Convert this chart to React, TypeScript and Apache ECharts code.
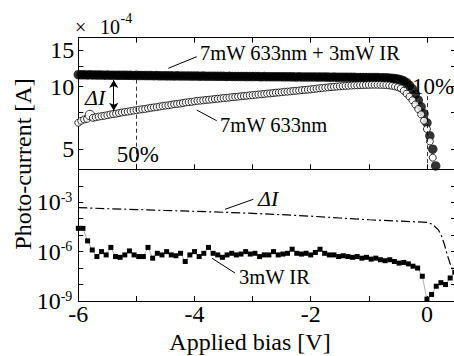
import React, { useEffect, useRef } from 'react';
import * as echarts from 'echarts';

const FONT = '"Liberation Serif", "Times New Roman", Times, serif';

// Bias sweep grids [V]
const SWEEP_START = -6;
const CIRCLE_STEP = 0.05;
const SQUARE_STEP = 0.08;

// 7mW 633nm + 3mW IR  (x 1e-4 A), bias -6 .. 0.15 step 0.05
const combinedValues = [
  11.42, 11.40, 11.41, 11.39, 11.40, 11.38, 11.39, 11.37, 11.38, 11.36, 11.37, 11.36, 11.35, 11.36, 11.34, 11.35, 11.33, 11.34, 11.33, 11.32,
  11.33, 11.31, 11.32, 11.30, 11.31, 11.30, 11.29, 11.30, 11.28, 11.29, 11.28, 11.27, 11.28, 11.26, 11.27, 11.26, 11.25, 11.26, 11.25, 11.24,
  11.25, 11.24, 11.23, 11.24, 11.23, 11.22, 11.23, 11.22, 11.21, 11.22, 11.21, 11.20, 11.21, 11.20, 11.19, 11.20, 11.19, 11.19, 11.18, 11.19,
  11.18, 11.19, 11.18, 11.17, 11.18, 11.17, 11.17, 11.16, 11.17, 11.16, 11.16, 11.15, 11.16, 11.15, 11.15, 11.14, 11.15, 11.14, 11.14, 11.13,
  11.14, 11.13, 11.13, 11.12, 11.13, 11.12, 11.12, 11.11, 11.12, 11.11, 11.10, 11.11, 11.10, 11.10, 11.09, 11.09, 11.08, 11.08, 11.07, 11.06,
  11.06, 11.06, 11.05, 11.05, 11.04, 11.03, 11.02, 11.00, 10.97, 10.93, 10.87, 10.78, 10.66, 10.45, 10.15, 9.75, 9.20, 8.60, 8.00, 7.40,
  6.70, 5.80, 5.00, 4.15,
];

// 7mW 633nm (x 1e-4 A), bias -6 .. 0.10 step 0.05
const redOnlyValues = [
  6.70, 6.85, 6.95, 7.00, 7.30, 7.08, 7.12, 7.17, 7.21, 7.24, 7.29, 7.34, 7.38, 7.41, 7.46, 7.51, 7.55, 7.58, 7.63, 7.67,
  7.70, 7.75, 7.78, 7.81, 7.86, 7.91, 7.94, 7.97, 8.02, 8.07, 8.10, 8.13, 8.18, 8.23, 8.26, 8.29, 8.34, 8.39, 8.42, 8.45,
  8.50, 8.54, 8.56, 8.59, 8.63, 8.65, 8.68, 8.72, 8.74, 8.77, 8.81, 8.83, 8.86, 8.90, 8.92, 8.95, 8.99, 9.01, 9.04, 9.08,
  9.10, 9.13, 9.17, 9.19, 9.22, 9.26, 9.28, 9.31, 9.35, 9.37, 9.40, 9.44, 9.46, 9.49, 9.53, 9.55, 9.58, 9.62, 9.64, 9.67,
  9.70, 9.74, 9.78, 9.82, 9.86, 9.89, 9.92, 9.95, 9.98, 10.01, 10.04, 10.06, 10.08, 10.10, 10.12, 10.14, 10.15, 10.17, 10.18, 10.19,
  10.20, 10.21, 10.21, 10.21, 10.20, 10.19, 10.17, 10.14, 10.09, 10.02, 9.93, 9.80, 9.55, 9.25, 8.95, 8.60, 8.20, 7.80, 7.35, 6.85,
  6.25, 5.45, 4.55,
];

// Delta I (A)
const deltaBias = [-6, -5.5, -5, -4.5, -4, -3.5, -3, -2.5, -2, -1.5, -1, -0.5, -0.25, 0, 0.1, 0.2, 0.25, 0.3, 0.35, 0.4, 0.45, 0.5];
const deltaValues = [
  4.7e-4, 4.05e-4, 3.6e-4, 3.15e-4, 2.8e-4, 2.45e-4, 2.1e-4, 1.75e-4, 1.42e-4, 1.1e-4, 8.6e-5,
  7.2e-5, 6.6e-5, 5.9e-5, 4.5e-5, 2.0e-5, 8.9e-6, 2.8e-6, 6.3e-7, 1.8e-7, 7e-8, 3.2e-8,
];

// 3mW IR (A), bias -6 .. 0.48 step 0.08
const irValues = [
  2.6e-5, 2.6e-5, 4.5e-6, 1.26e-6, 5.0e-7, 1.0e-6, 6.3e-7, 1.8e-6, 5.0e-7, 4.5e-7,
  6.3e-7, 1.1e-6, 6.3e-7, 5.0e-7, 5.0e-7, 1.8e-6, 4.0e-7, 7.9e-7, 6.3e-7, 1.0e-6,
  6.3e-7, 5.6e-7, 7.9e-7, 2.5e-7, 6.3e-7, 1.0e-6, 5.0e-7, 7.9e-7, 1.8e-6, 7.9e-7,
  6.3e-7, 4.5e-7, 6.3e-7, 7.9e-7, 6.3e-7, 7.1e-7, 1.0e-6, 7.1e-7, 7.9e-7, 5.0e-7,
  6.3e-7, 6.3e-7, 1.0e-6, 6.3e-7, 7.1e-7, 7.9e-7, 1.4e-6, 7.9e-7, 7.1e-7, 7.9e-7,
  6.3e-7, 8.9e-7, 1.4e-6, 7.9e-7, 6.3e-7, 6.3e-7, 5.0e-7, 5.6e-7, 5.0e-7, 4.5e-7,
  5.0e-7, 4.0e-7, 4.5e-7, 3.5e-7, 4.0e-7, 3.2e-7, 2.8e-7, 3.2e-7, 2.5e-7, 2.0e-7,
  2.2e-7, 1.8e-7, 1.3e-7, 1.0e-7, 3.2e-8, 1.3e-9, 2.5e-9, 7.9e-9, 1.3e-8, 1.0e-8,
  2.5e-8, 5.6e-8,
];

const topTickValues = [5, 7.5, 10, 12.5, 15];
const topLabelValues = [5, 10, 15];
const TOP_MIN = 4;
const TOP_MAX = 17.2;
const BOTTOM_MIN = 1e-9;
const BOTTOM_MAX = 1e-1;

const sweep = (start: number, step: number, n: number) =>
  Array.from({ length: n }, (_, i) => Math.round((start + step * i) * 1000) / 1000);

function buildOption() {
  const circleBias = sweep(SWEEP_START, CIRCLE_STEP, combinedValues.length);
  const squareBias = sweep(SWEEP_START, SQUARE_STEP, irValues.length);

  const axisLine = { show: true, onZero: false, lineStyle: { color: '#000', width: 1 } };
  const tick = { show: true, inside: true, length: 5, lineStyle: { color: '#000', width: 1 } };
  const xCommon = {
    type: 'value', min: -6, max: 0.5, interval: 1,
    axisLine, axisTick: tick, splitLine: { show: false }, axisLabel: { show: false },
  };
  const topLogMin = Math.log10(TOP_MIN);
  const topLogMax = Math.log10(TOP_MAX);
  const txt = (x: number, y: number, text: string, size: number, italic = false) => ({
    type: 'text', x, y,
    style: { text, fontFamily: FONT, fontSize: size, fontStyle: italic ? 'italic' : 'normal', fill: '#000', verticalAlign: 'middle' },
  });
  const seg = (x1: number, y1: number, x2: number, y2: number) => ({
    type: 'line', shape: { x1, y1, x2, y2 }, style: { stroke: '#000', lineWidth: 1 },
  });

  return {
    animation: false,
    backgroundColor: '#fff',
    grid: [
      { left: 78.3, top: 37.7, width: 377.7, height: 131.6, outerBoundsMode: 'none' },
      { left: 78.3, top: 169.3, width: 377.7, height: 131.7, outerBoundsMode: 'none' },
    ],
    xAxis: [
      { ...xCommon, gridIndex: 0, position: 'bottom' },
      { ...xCommon, gridIndex: 0, position: 'top' },
      {
        ...xCommon, gridIndex: 1, position: 'bottom',
        axisLabel: {
          show: true, color: '#000', fontFamily: FONT, fontSize: 24, margin: 1,
          formatter: (v: number) => (Number.isInteger(v) && Math.abs(v) % 2 === 0 ? String(v) : ''),
        },
      },
    ],
    yAxis: [
      { type: 'log', logBase: 10, gridIndex: 0, min: TOP_MIN, max: TOP_MAX, show: false },
      {
        type: 'value', gridIndex: 0, min: topLogMin, max: topLogMax, position: 'left',
        axisLine, splitLine: { show: false },
        axisTick: { ...tick, customValues: topTickValues.map((v) => Math.log10(v)) },
        axisLabel: {
          color: '#000', fontFamily: FONT, fontSize: 24, margin: 4,
          customValues: topLabelValues.map((v) => Math.log10(v)),
          formatter: (v: number) => String(Math.round(Math.pow(10, v))),
        },
      },
      {
        type: 'value', gridIndex: 0, min: topLogMin, max: topLogMax, position: 'right',
        axisLine, splitLine: { show: false },
        axisTick: { ...tick, customValues: topTickValues.map((v) => Math.log10(v)) },
        axisLabel: { show: false },
      },
      {
        type: 'log', logBase: 10, gridIndex: 1, min: BOTTOM_MIN, max: BOTTOM_MAX, interval: 1, position: 'left',
        axisLine, axisTick: tick, splitLine: { show: false }, minorTick: { show: false },
        axisLabel: {
          margin: 6,
          formatter: (v: number) => {
            const e = Math.round(Math.log10(v));
            return e % 3 === 0 ? `{b|10}{s|${e}}` : '';
          },
          rich: {
            b: { fontSize: 24, fontFamily: FONT, color: '#000', lineHeight: 24, verticalAlign: 'bottom', padding: [8, 0, 0, 0] },
            s: { fontSize: 14, fontFamily: FONT, color: '#000', lineHeight: 14, verticalAlign: 'top' },
          },
        },
      },
      {
        type: 'log', logBase: 10, gridIndex: 1, min: BOTTOM_MIN, max: BOTTOM_MAX, interval: 1, position: 'right',
        axisLine, axisTick: tick, splitLine: { show: false }, axisLabel: { show: false },
      },
    ],
    series: [
      {
        name: '7mW 633nm + 3mW IR', type: 'scatter', xAxisIndex: 0, yAxisIndex: 0,
        data: combinedValues.map((v, i) => [circleBias[i], v]),
        symbol: 'circle', symbolSize: 9.5, itemStyle: { color: '#000' },
        markLine: {
          silent: true, symbol: 'none', label: { show: false },
          lineStyle: { color: '#000', type: [4, 3], width: 0.8 },
          data: [
            [{ coord: [-5, 10.8] }, { coord: [-5, TOP_MIN] }],
            [{ coord: [0, 9] }, { coord: [0, TOP_MIN] }],
          ],
        },
      },
      {
        name: '7mW 633nm', type: 'scatter', xAxisIndex: 0, yAxisIndex: 0,
        data: redOnlyValues.map((v, i) => [circleBias[i], v]),
        symbol: 'circle',
        symbolSize: (_v: any, p: any) => (p.dataIndex === 4 ? 9.5 : 7),
        itemStyle: { color: '#fff', borderColor: '#000', borderWidth: 1 },
        markLine: {
          silent: true, symbol: ['arrow', 'arrow'], symbolSize: [7, 8], label: { show: false },
          lineStyle: { color: '#000', type: 'solid', width: 1 },
          data: [[{ coord: [-5.39, 10.75] }, { coord: [-5.39, 7.65] }]],
        },
      },
      {
        name: 'ΔI', type: 'line', xAxisIndex: 2, yAxisIndex: 3,
        data: deltaValues.map((v, i) => [deltaBias[i], v]),
        symbol: 'none', showSymbol: false,
        lineStyle: { color: '#000', width: 1.2, type: [9, 3, 2, 3] },
      },
      {
        name: '3mW IR', type: 'line', xAxisIndex: 2, yAxisIndex: 3,
        data: irValues.map((v, i) => [squareBias[i], v]),
        symbol: 'rect', symbolSize: 5, showSymbol: true, showAllSymbol: true,
        itemStyle: { color: '#000' },
        lineStyle: { color: '#777', width: 0.6 },
      },
    ],
    graphic: [
      { type: 'text', x: 22.7, y: 164, rotation: Math.PI / 2, style: { text: 'Photo-current [A]', fontFamily: FONT, fontSize: 24, fill: '#000', align: 'center', verticalAlign: 'middle' } },
      { type: 'text', x: 250, y: 342, style: { text: 'Applied bias [V]', fontFamily: FONT, fontSize: 24, fill: '#000', align: 'center', verticalAlign: 'middle' } },
      txt(75, 27, '×', 20),
      txt(100, 27, '10', 20),
      txt(120.5, 18, '-4', 14),
      txt(200, 53, '7mW 633nm + 3mW IR', 20.5),
      txt(220, 125, '7mW 633nm', 20.5),
      txt(239, 277, '3mW IR', 20.5),
      txt(116.7, 154, '50%', 23),
      txt(412, 86, '10%', 23),
      txt(85, 97, 'ΔI', 22, true),
      txt(258, 198.5, 'ΔI', 22, true),
      seg(168.3, 68.3, 196.7, 56.7),
      seg(196.7, 110, 216.7, 120.7),
      seg(225, 209.3, 253.3, 199.3),
      seg(212, 258.3, 235, 273),
    ],
  };
}

export default function App() {
  const ref = useRef<HTMLDivElement>(null);
  useEffect(() => {
    if (!ref.current) return;
    const chart = echarts.init(ref.current, null, { renderer: 'svg' });
    chart.setOption(buildOption() as any);
    return () => chart.dispose();
  }, []);
  return (
    <div
      ref={ref}
      style={{ position: 'fixed', left: 0, top: 0, width: 454, height: 356, background: '#fff' }}
    />
  );
}
